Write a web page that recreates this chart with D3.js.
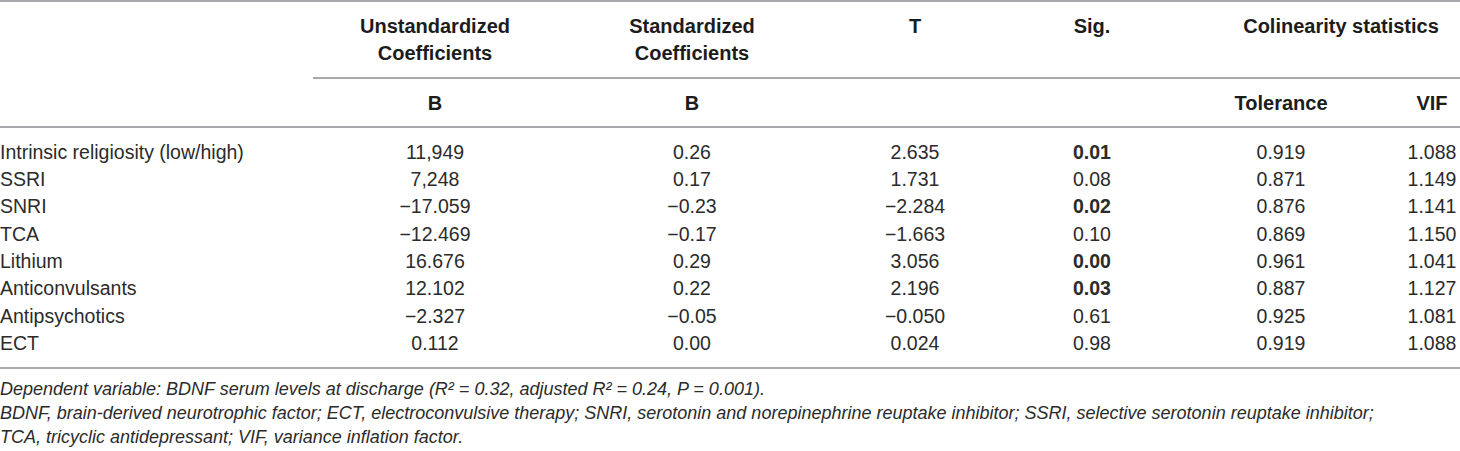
<!DOCTYPE html>
<meta charset="utf-8">
<style>
body { margin: 0; background: #fff; }
text { font-family: 'Liberation Sans', Arial, sans-serif; fill: #2b2b2b; }
.head { font-weight: bold; font-size: 20px; fill: #1c1c1c; }
.cell { font-size: 19.5px; }
.note { font-size: 18px; font-style: italic; }
</style>
<script src="https://d3js.org/d3.v7.min.js"></script>
<div id="tbl"></div>
<script>

// table content
var rowLabels = ["Intrinsic religiosity (low/high)", "SSRI", "SNRI", "TCA", "Lithium",
                 "Anticonvulsants", "Antipsychotics", "ECT"];
var unstdB   = ["11,949", "7,248", "\u221217.059", "\u221212.469", "16.676", "12.102", "\u22122.327", "0.112"];
var stdB     = ["0.26", "0.17", "\u22120.23", "\u22120.17", "0.29", "0.22", "\u22120.05", "0.00"];
var tVals    = ["2.635", "1.731", "\u22122.284", "\u22121.663", "3.056", "2.196", "\u22120.050", "0.024"];
var sigVals  = ["0.01", "0.08", "0.02", "0.10", "0.00", "0.03", "0.61", "0.98"];
var tolVals  = ["0.919", "0.871", "0.876", "0.869", "0.961", "0.887", "0.925", "0.919"];
var vifVals  = ["1.088", "1.149", "1.141", "1.150", "1.041", "1.127", "1.081", "1.088"];

var colKeys = ["label", "unstd", "std", "t", "sig", "tol", "vif"];
var headTop = [["Unstandardized", "Coefficients"], ["Standardized", "Coefficients"], ["T"], ["Sig."]];
var headSub = ["B", "B", "", "", "Tolerance", "VIF"];
var groupHead = "Colinearity statistics";
var notes = [
  "Dependent variable: BDNF serum levels at discharge (R\u00b2 = 0.32, adjusted R\u00b2 = 0.24, P = 0.001).",
  "BDNF, brain-derived neurotrophic factor; ECT, electroconvulsive therapy; SNRI, serotonin and norepinephrine reuptake inhibitor; SSRI, selective serotonin reuptake inhibitor;",
  "TCA, tricyclic antidepressant; VIF, variance inflation factor."
];

var width = 1460, height = 451;

var svg = d3.select("#tbl").append("svg")
    .attr("width", width)
    .attr("height", height);

// column centres
var x = d3.scaleOrdinal()
    .domain(colKeys)
    .range([0, 435, 692, 915, 1092, 1281, 1432]);

// row middles
var y = d3.scalePoint()
    .domain(rowLabels)
    .range([152, 343]);

// rules
var rule = function(x1, x2, yy) {
  svg.append("line")
    .attr("x1", x1).attr("x2", x2)
    .attr("y1", yy).attr("y2", yy)
    .attr("stroke", "#a7a9ac")
    .attr("stroke-width", 2);
};
rule(0, width, 1);
rule(313, width, 78);
rule(0, width, 127);
rule(0, width, 368);

// header, top part
var headG = svg.append("g");
headTop.forEach(function(lines, i) {
  lines.forEach(function(s, j) {
    headG.append("text")
      .attr("class", "head")
      .attr("x", x(colKeys[i + 1]))
      .attr("y", 26 + j * 27)
      .attr("dy", "0.35em")
      .attr("text-anchor", "middle")
      .text(s);
  });
});
headG.append("text")
  .attr("class", "head")
  .attr("x", 1341)
  .attr("y", 26)
  .attr("dy", "0.35em")
  .attr("text-anchor", "middle")
  .text(groupHead);

// header, sub part
svg.append("g").selectAll("text")
  .data(headSub)
  .enter()
  .append("text")
    .attr("class", "head")
    .attr("x", function(d, i) { return x(colKeys[i + 1]); })
    .attr("y", 103)
    .attr("dy", "0.35em")
    .attr("text-anchor", "middle")
    .text(function(d) { return d; });

// body
var cols = [unstdB, stdB, tVals, sigVals, tolVals, vifVals];

svg.append("g").selectAll("text")
  .data(rowLabels)
  .enter()
  .append("text")
    .attr("class", "cell")
    .attr("x", x("label"))
    .attr("y", function(d) { return y(d); })
    .attr("dy", "0.35em")
    .text(function(d) { return d; });

cols.forEach(function(vals, c) {
  svg.append("g").selectAll("text")
    .data(vals)
    .enter()
    .append("text")
      .attr("class", "cell")
      .attr("x", x(colKeys[c + 1]))
      .attr("y", function(d, i) { return y(rowLabels[i]); })
      .attr("dy", "0.35em")
      .attr("text-anchor", "middle")
      .style("font-weight", function(d) {
        return (vals === sigVals && +d < 0.05) ? "bold" : null;
      })
      .text(function(d) { return d; });
});

// footnotes
svg.append("g").selectAll("text")
  .data(notes)
  .enter()
  .append("text")
    .attr("class", "note")
    .attr("x", 0)
    .attr("y", function(d, i) { return 389 + i * 24; })
    .attr("dy", "0.35em")
    .text(function(d) { return d; });

</script>
